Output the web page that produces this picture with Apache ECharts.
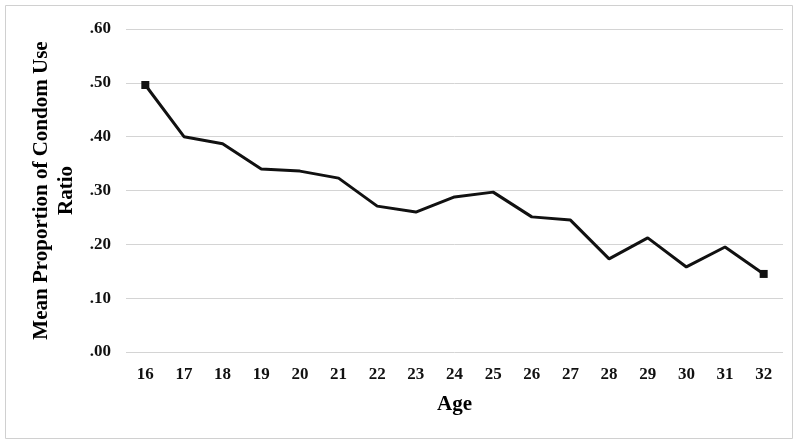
<!DOCTYPE html>
<html>
<head>
<meta charset="utf-8">
<script src="https://cdn.jsdelivr.net/npm/echarts@6/dist/echarts.min.js"></script>
<style>
html,body{margin:0;padding:0;background:#fff;}
#chart{width:797px;height:442px;}
</style>
</head>
<body>
<div id="chart"></div>
<script>
const ages = ['16','17','18','19','20','21','22','23','24','25','26','27','28','29','30','31','32'];
const meanRatio = [0.496,0.400,0.387,0.340,0.336,0.323,0.271,0.260,0.288,0.297,0.251,0.245,0.173,0.212,0.158,0.195,0.145];
const yTicks = [0, 0.1, 0.2, 0.3, 0.4, 0.5, 0.6];

const chart = echarts.init(document.getElementById('chart'), null, {renderer: 'canvas'});
const font = '"Liberation Serif", "Times New Roman", serif';
const lastIdx = meanRatio.length - 1;
chart.setOption({
  animation: false,
  backgroundColor: '#fff',
  textStyle: {fontFamily: font},
  graphic: [{
    type: 'rect',
    shape: {x: 5.5, y: 5.5, width: 787, height: 433},
    style: {fill: 'none', stroke: '#d0d0d0', lineWidth: 1}
  }],
  grid: {left: 126, right: 14, top: 29, bottom: 90},
  xAxis: {
    type: 'category',
    data: ages,
    boundaryGap: true,
    name: 'Age',
    nameLocation: 'middle',
    nameGap: 42,
    nameTextStyle: {fontFamily: font, fontWeight: 'bold', fontSize: 21, color: '#000'},
    axisLine: {show: false},
    axisTick: {show: false},
    axisLabel: {fontFamily: font, fontWeight: 'bold', fontSize: 17, color: '#111', margin: 14}
  },
  yAxis: {
    type: 'value',
    min: yTicks[0],
    max: yTicks[yTicks.length - 1],
    interval: 0.1,
    name: 'Mean Proportion of Condom Use\nRatio',
    nameLocation: 'middle',
    nameGap: 43,
    nameRotate: 90,
    nameTextStyle: {fontFamily: font, fontWeight: 'bold', fontSize: 21, color: '#000', lineHeight: 25},
    axisLine: {show: false},
    axisTick: {show: false},
    splitLine: {lineStyle: {color: '#d4d4d4', width: 1}},
    axisLabel: {
      fontFamily: font, fontWeight: 'bold', fontSize: 17, color: '#111', margin: 15,
      formatter: v => '.' + (Math.round(v * 100)).toString().padStart(2, '0')
    }
  },
  series: [{
    type: 'line',
    data: meanRatio.map((v, i) => ({
      value: v,
      symbol: (i === 0 || i === lastIdx) ? 'rect' : 'none',
      symbolSize: 8
    })),
    showSymbol: true,
    lineStyle: {color: '#111', width: 3},
    itemStyle: {color: '#111'}
  }]
});
</script>
</body>
</html>
